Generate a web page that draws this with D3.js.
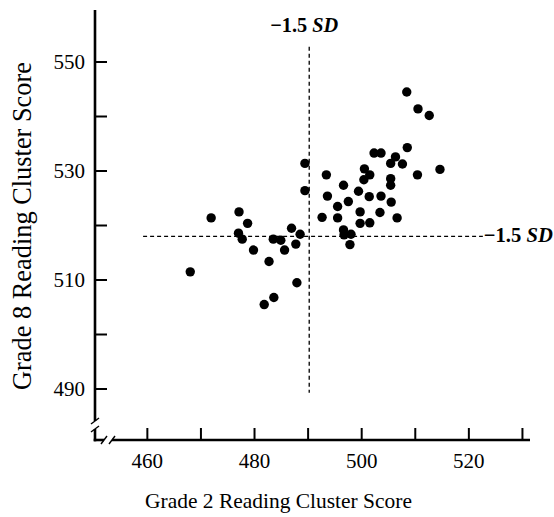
<!DOCTYPE html>
<html>
<head>
<meta charset="utf-8">
<script src="https://cdn.jsdelivr.net/npm/d3@7"></script>
<style>
  html, body { margin: 0; padding: 0; background: #fff; }
  svg { display: block; }
  text { font-family: "Liberation Serif", "DejaVu Serif", serif; fill: #000; }
</style>
</head>
<body>
<svg id="chart" width="554" height="517"></svg>
<script>
// ---- data ----
const grade2 = [468.1,472.0,477.2,478.8,477.1,477.8,479.9,482.8,481.9,483.7,
  483.6,485.0,485.7,487.0,488.6,487.8,488.0,489.5,489.5,492.7,
  493.5,493.7,495.6,495.6,496.7,497.6,496.7,496.8,498.1,497.9,
  499.5,499.8,499.8,500.6,500.5,501.6,501.5,501.6,502.4,503.7,
  503.7,503.5,505.5,506.4,507.7,505.5,505.5,505.6,506.7,508.6,
  508.5,510.6,512.7,510.5,514.7];
const grade8 = [511.4,521.3,522.4,520.3,518.5,517.4,515.4,513.3,505.4,506.7,
  517.4,517.2,515.4,519.4,518.3,516.5,509.4,531.3,526.3,521.4,
  529.2,525.3,523.4,521.3,527.3,524.3,519.1,518.2,518.3,516.4,
  526.2,522.4,520.3,530.3,528.3,529.2,525.2,520.4,533.2,533.2,
  525.3,522.3,531.3,532.5,531.2,528.5,527.3,524.2,521.3,534.2,
  544.4,541.3,540.1,529.2,530.2];
const xTickValues = [460,470,480,490,500,510,520,530];
const xTickLabels = [460,480,500,520];
const yTickValues = [490,500,510,520,530,540,550];
const yTickLabels = [490,510,530,550];
const sdX = 490.3;          // -1.5 SD cut on grade 2
const sdY = 517.9;          // -1.5 SD cut on grade 8
const sdXSpan = [489.2, 552.7];   // extent of vertical cut line (grade 8 units)
const sdYSpan = [459.3, 522.7];   // extent of horizontal cut line (grade 2 units)
const sdLabel = "\u22121.5 ";
const xTitle = "Grade 2 Reading Cluster Score";
const yTitle = "Grade 8 Reading Cluster Score";

// ---- layout ----
const svg = d3.select("#chart");
const x0 = 95, yAxisTop = 10, xAxisY = 440, xAxisRight = 530;
const x = d3.scaleLinear().domain([460, 530]).range([146.85, 521.95]);
const y = d3.scaleLinear().domain([490, 550]).range([388.5, 61.5]);

// x axis ticks + labels
const xAxis = d3.axisBottom(x)
  .tickValues(xTickValues)
  .tickSizeInner(-12).tickSizeOuter(0).tickPadding(13)
  .tickFormat(d => xTickLabels.includes(d) ? String(d) : "");
const gx = svg.append("g").attr("transform", `translate(0,${xAxisY})`).call(xAxis);
gx.select(".domain").remove();
gx.selectAll(".tick line").attr("stroke", "#000").attr("stroke-width", 2);
gx.selectAll(".tick text").style("font-size", "21px").attr("dy", "0.71em")
  .style("font-family", '"Liberation Serif", serif');

// y axis ticks + labels
const yAxis = d3.axisLeft(y)
  .tickValues(yTickValues)
  .tickSizeInner(-12).tickSizeOuter(0).tickPadding(10)
  .tickFormat(d => yTickLabels.includes(d) ? String(d) : "");
const gy = svg.append("g").attr("transform", `translate(${x0},0)`).call(yAxis);
gy.select(".domain").remove();
gy.selectAll(".tick line").attr("stroke", "#000").attr("stroke-width", 2);
gy.selectAll(".tick text").style("font-size", "21px")
  .style("font-family", '"Liberation Serif", serif');

// axis lines with breaks
const axisG = svg.append("g").attr("stroke", "#000").attr("fill", "none");
axisG.append("line").attr("x1", x0).attr("x2", x0).attr("y1", yAxisTop).attr("y2", 421).attr("stroke-width", 2.6);
axisG.append("line").attr("x1", x0).attr("x2", x0).attr("y1", 429).attr("y2", xAxisY + 1.3).attr("stroke-width", 2.6);
axisG.append("line").attr("x1", x0 - 1.3).attr("x2", 104).attr("y1", xAxisY).attr("y2", xAxisY).attr("stroke-width", 2.6);
axisG.append("line").attr("x1", 112).attr("x2", xAxisRight).attr("y1", xAxisY).attr("y2", xAxisY).attr("stroke-width", 2.6);
[421, 429].forEach(v => axisG.append("line")
  .attr("x1", x0 - 4).attr("y1", v + 3).attr("x2", x0 + 4).attr("y2", v - 3).attr("stroke-width", 1.4));
[104, 112].forEach(v => axisG.append("line")
  .attr("x1", v - 3).attr("y1", xAxisY + 4).attr("x2", v + 3).attr("y2", xAxisY - 4).attr("stroke-width", 1.4));

// -1.5 SD dashed lines
svg.append("line")
  .attr("x1", x(sdX)).attr("x2", x(sdX))
  .attr("y1", y(sdXSpan[1])).attr("y2", y(sdXSpan[0]))
  .attr("stroke", "#000").attr("stroke-width", 1.3).attr("stroke-dasharray", "4,3");
svg.append("line")
  .attr("x1", x(sdYSpan[0])).attr("x2", x(sdYSpan[1]))
  .attr("y1", y(sdY)).attr("y2", y(sdY))
  .attr("stroke", "#000").attr("stroke-width", 1.3).attr("stroke-dasharray", "4,3");

// SD labels
function sdText(g) {
  g.append("tspan").text(sdLabel);
  g.append("tspan").attr("font-style", "italic").text("SD");
}
function fitText(sel, target, base) {
  sel.style("font-size", base + "px");
  const len = sel.node().getComputedTextLength();
  sel.style("font-size", (base * target / len) + "px");
}
const sd1 = svg.append("text").attr("x", x(sdX) - 5).attr("y", 32)
  .attr("text-anchor", "middle").attr("font-weight", "bold")
  .call(sdText);
fitText(sd1, 68, 18);
const sd2 = svg.append("text").attr("x", x(sdYSpan[1]) + 1).attr("y", y(sdY) + 5.5)
  .attr("font-weight", "bold")
  .call(sdText);
fitText(sd2, 69, 18);

// points
svg.append("g").selectAll("circle")
  .data(grade2.map((g, i) => [g, grade8[i]]))
  .join("circle")
  .attr("cx", d => x(d[0])).attr("cy", d => y(d[1]))
  .attr("r", 4.7).attr("fill", "#000");

// axis titles (fit to measured lengths)
const xt = svg.append("text").attr("x", 278.5).attr("y", 508)
  .attr("text-anchor", "middle").text(xTitle);
fitText(xt, 267, 19);
const yt = svg.append("text")
  .attr("transform", "translate(31,226) rotate(-90)")
  .attr("text-anchor", "middle").text(yTitle);
fitText(yt, 328, 22);
</script>
</body>
</html>
